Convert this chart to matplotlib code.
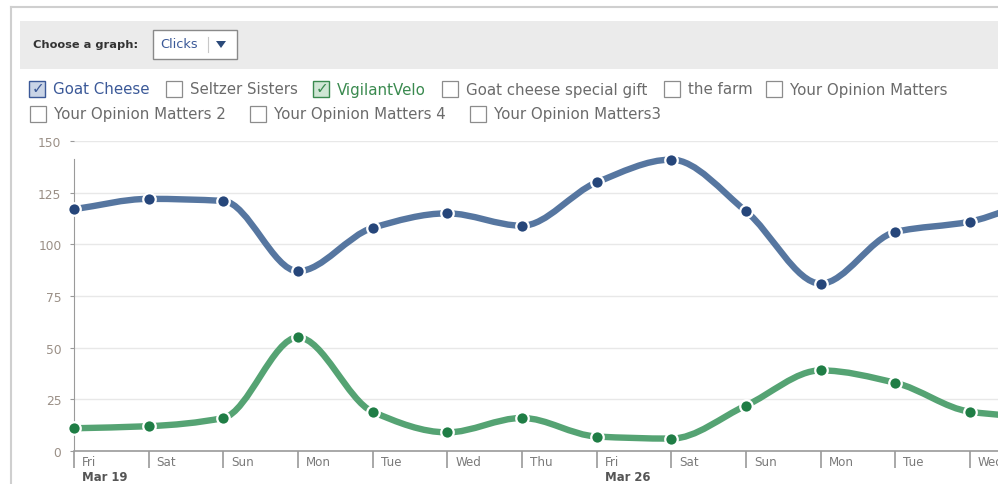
import matplotlib
matplotlib.use("Agg")
import matplotlib.pyplot as plt
from matplotlib.path import Path
from matplotlib.patches import PathPatch, Rectangle, Polygon
from matplotlib.transforms import blended_transform_factory, ScaledTranslation

# ---- data ----
days = ["Fri", "Sat", "Sun", "Mon", "Tue", "Wed", "Thu",
        "Fri", "Sat", "Sun", "Mon", "Tue", "Wed"]
date_labels = {0: "Mar 19", 7: "Mar 26"}
goat_cheese = [117, 122, 121, 87, 108, 115, 109, 130, 141, 116, 81, 106, 111, 124]
vigilant_velo = [11, 12, 16, 55, 19, 9, 16, 7, 6, 22, 39, 33, 19, 16]
y_ticks = [0, 25, 50, 75, 100, 125, 150]
row1 = ["Goat Cheese", "Seltzer Sisters", "VigilantVelo", "Goat cheese special gift",
        "the farm", "Your Opinion Matters"]
row2 = ["Your Opinion Matters 2", "Your Opinion Matters 4", "Your Opinion Matters3"]

W, H = 998, 485
fig = plt.figure(figsize=(W / 100, H / 100), dpi=100)
fig.patch.set_facecolor("white")


def fx(px):
    return px / W


def fy(py):
    return 1 - py / H


# ---- UI chrome ----
fig.add_artist(plt.Line2D([fx(11), fx(11)], [fy(8), 0], color="#cfcfcf", lw=1.5))
fig.add_artist(plt.Line2D([fx(11), 1], [fy(8), fy(8)], color="#cfcfcf", lw=1.5))
fig.add_artist(Rectangle((fx(20), fy(70)), fx(998 - 20), (70 - 22) / H,
                         transform=fig.transFigure, facecolor="#ebebeb", edgecolor="none"))
fig.text(fx(33), fy(45), "Choose a graph:", fontsize=8.2, fontweight="bold",
         color="#333333", va="center", ha="left")
fig.add_artist(Rectangle((fx(153), fy(60)), fx(84), 29 / H, transform=fig.transFigure,
                         facecolor="white", edgecolor="#8a8a8a", lw=1.0))
fig.text(fx(160), fy(45), "Clicks", fontsize=9.3, color="#3b5998", va="center", ha="left")
fig.add_artist(plt.Line2D([fx(208), fx(208)], [fy(38), fy(53)], color="#c8c8c8", lw=0.8))
fig.add_artist(Polygon([[fx(216), fy(42)], [fx(226), fy(42)], [fx(221), fy(49)]],
                       closed=True, transform=fig.transFigure, facecolor="#2b4a7a",
                       edgecolor="none"))

LEG_FS = 10.8
row1_box_x = [29, 166, 313, 442, 664, 766]
row2_box_x = [30, 250, 470]
checked = {"Goat Cheese": ("#3b5998", "#c9d4e6"), "VigilantVelo": ("#3a8a4f", "#cfe6d4")}


def checkbox(x, yc, label):
    size = 16
    if label in checked:
        col, fill = checked[label]
        fig.add_artist(Rectangle((fx(x), fy(yc + size / 2)), size / W, size / H,
                                 transform=fig.transFigure, facecolor=fill,
                                 edgecolor=col, lw=1.0))
        fig.text(fx(x + size / 2 + 1), fy(yc - 1), "\u2713", fontsize=11, color=col,
                 ha="center", va="center", fontweight="bold")
        tcol = col
    else:
        fig.add_artist(Rectangle((fx(x), fy(yc + size / 2)), size / W, size / H,
                                 transform=fig.transFigure, facecolor="white",
                                 edgecolor="#8c8c8c", lw=0.9))
        tcol = "#6b6b6b"
    fig.text(fx(x + size + 8), fy(yc), label, fontsize=LEG_FS, color=tcol,
             va="center", ha="left")


for bx, lab in zip(row1_box_x, row1):
    checkbox(bx, 90, lab)
for bx, lab in zip(row2_box_x, row2):
    checkbox(bx, 115, lab)

# ---- chart ----
x0_px, x_end_px = 74, 998
unit_px = (970 - 74) / 12
ax = fig.add_axes([fx(x0_px), fy(452), (x_end_px - x0_px) / W, (452 - 142) / H])
ax.set_xlim(0, (x_end_px - x0_px) / unit_px)
ax.set_ylim(0, 150)
ax.set_facecolor("none")
for s in ["top", "right"]:
    ax.spines[s].set_visible(False)
ax.spines["left"].set_color("#9a9a9a")
ax.spines["left"].set_bounds(0, 141.5)
ax.spines["bottom"].set_color("#9a9a9a")
ax.spines["bottom"].set_linewidth(1.2)

ax.set_yticks(y_ticks)
ax.set_yticklabels([str(v) for v in y_ticks])
ax.tick_params(axis="y", length=3, color="#9a9a9a", labelsize=8.8,
               labelcolor="#9a8f86", pad=6)
for v in y_ticks[1:]:
    ax.axhline(v, color="#e8e8e8", lw=1.0, zorder=0)

ax.set_xticks(range(len(days)))
ax.set_xticklabels([])
ax.tick_params(axis="x", length=12, color="#9a9a9a", width=1.2, direction="out")

tr = blended_transform_factory(ax.transData, ax.transAxes)
for i, d in enumerate(days):
    ax.text(i, 0, d, transform=tr + ScaledTranslation(8 / 100, -11 / 100, fig.dpi_scale_trans),
            fontsize=8.6, color="#7a7a7a", ha="left", va="center", clip_on=False)
    if i in date_labels:
        ax.text(i, 0, date_labels[i],
                transform=tr + ScaledTranslation(8 / 100, -26 / 100, fig.dpi_scale_trans),
                fontsize=8.4, color="#555555", fontweight="bold", ha="left", va="center",
                clip_on=False)


def smooth_path(xs, ys):
    """Monotone (Fritsch-Carlson) cubic drawn as Bezier segments."""
    n = len(xs)
    d = [(ys[i + 1] - ys[i]) / (xs[i + 1] - xs[i]) for i in range(n - 1)]
    m = [0.0] * n
    m[0] = d[0]
    m[-1] = d[-1]
    for i in range(1, n - 1):
        if d[i - 1] * d[i] <= 0:
            m[i] = 0.0
        else:
            m[i] = 2 * d[i - 1] * d[i] / (d[i - 1] + d[i])
    verts = [(xs[0], ys[0])]
    codes = [Path.MOVETO]
    for i in range(n - 1):
        h = xs[i + 1] - xs[i]
        c1 = (xs[i] + h / 3, ys[i] + m[i] * h / 3)
        c2 = (xs[i + 1] - h / 3, ys[i + 1] - m[i + 1] * h / 3)
        verts += [c1, c2, (xs[i + 1], ys[i + 1])]
        codes += [Path.CURVE4] * 3
    return Path(verts, codes)


series = [(goat_cheese, "#5676a0", "#26467a"), (vigilant_velo, "#55a373", "#1f7d45")]
for vals, lc, mc in series:
    xs = list(range(len(vals)))
    ax.add_patch(PathPatch(smooth_path(xs, vals), fill=False, edgecolor=lc, lw=4.6,
                           capstyle="round", joinstyle="round", zorder=3))
    ax.plot(xs, vals, linestyle="none", marker="o", ms=9, mfc=mc, mec="white",
            mew=1.6, zorder=4, clip_on=False)

fig.savefig("out.png", dpi=100, facecolor="white")
